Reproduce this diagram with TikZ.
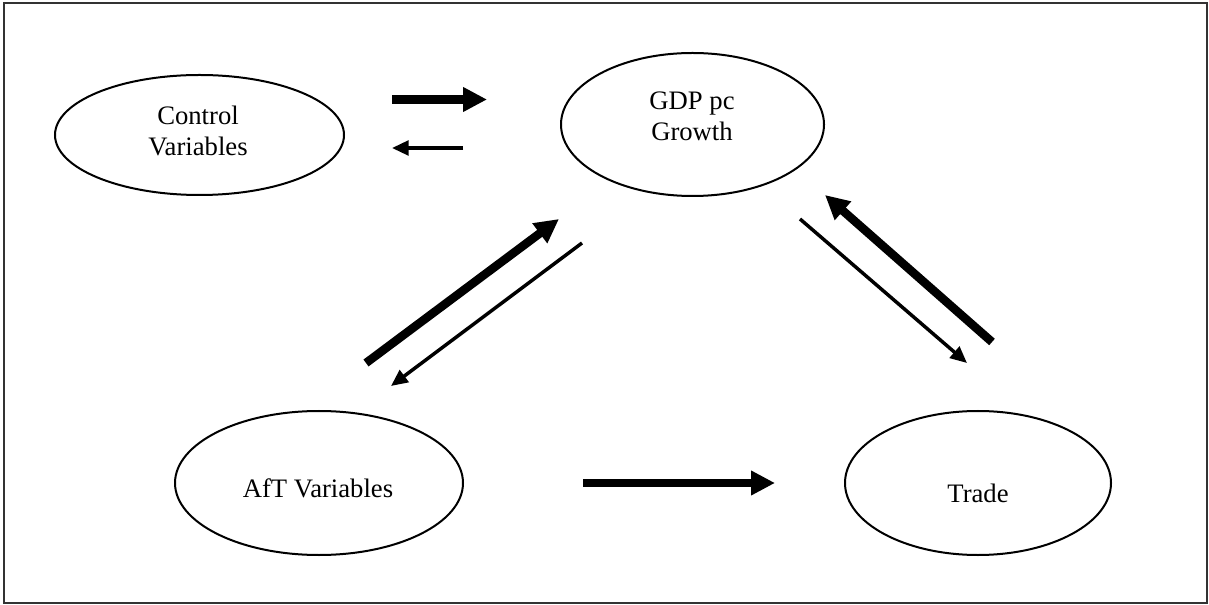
\documentclass[tikz,border=0pt]{standalone}
\usepackage{fontspec}
\setmainfont{Liberation Serif}
\usetikzlibrary{arrows.meta,shapes.geometric}
\begin{document}
\begin{tikzpicture}[x=0.75pt,y=-0.75pt,
  oval/.style={draw,ellipse,line width=1.5pt,inner sep=0pt},
  lbl/.style={font=\fontsize{20}{23.25}\selectfont,align=center,inner sep=0pt},
  strong/.style={line width=6.4pt,-{Triangle[length=18pt,width=17.5pt]}},
  weak/.style={line width=2.6pt,-{Triangle[length=12.5pt,width=11pt]}}]
\useasboundingbox (0,0) rectangle (1209,605);
\draw[line width=1.2pt,black!80] (4,3) rectangle (1207,603);
% ellipses
\node[oval,minimum width=289*0.75pt,minimum height=120*0.75pt] (ctrl) at (199.5,135) {};
\node[oval,minimum width=263*0.75pt,minimum height=143*0.75pt] (gdp) at (692.5,124.5) {};
\node[oval,minimum width=288*0.75pt,minimum height=144*0.75pt] (aft) at (319,483) {};
\node[oval,minimum width=266*0.75pt,minimum height=144*0.75pt] (trade) at (978,483) {};
% labels
\node[lbl] (ctrltext) at (198,131.4) {Control\\Variables};
\node[lbl] (gdptext) at (692,116.2) {GDP pc\\Growth};
\node[lbl,anchor=base] (afttext) at (318,497) {AfT Variables};
\node[lbl,anchor=base] (tradetext) at (978,502) {Trade};
% arrow end points
\coordinate (a1s) at (392,99.5);  \coordinate (a1e) at (487,99.5);
\coordinate (a2s) at (463,148);   \coordinate (a2e) at (392,148);
\coordinate (a3s) at (366,363);   \coordinate (a3e) at (559,219);
\coordinate (a4s) at (582,243);   \coordinate (a4e) at (391,386);
\coordinate (a5s) at (992,342);   \coordinate (a5e) at (825,195);
\coordinate (a6s) at (800,219);   \coordinate (a6e) at (967,363);
\coordinate (a7s) at (583,483);   \coordinate (a7e) at (775,483);
\draw[strong] (a1s) -- (a1e);
\draw[weak]   (a2s) -- (a2e);
\draw[strong] (a3s) -- (a3e);
\draw[weak]   (a4s) -- (a4e);
\draw[strong] (a5s) -- (a5e);
\draw[weak]   (a6s) -- (a6e);
\draw[strong] (a7s) -- (a7e);
\end{tikzpicture}
\end{document}
